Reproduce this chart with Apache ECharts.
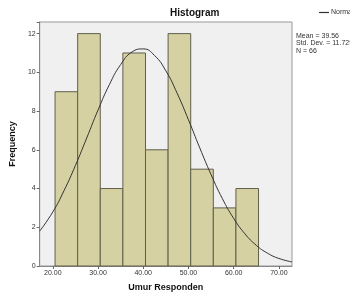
<!DOCTYPE html>
<html>
<head>
<meta charset="utf-8">
<script src="https://cdn.jsdelivr.net/npm/echarts@6/dist/echarts.min.js"></script>
<style>
  html, body { margin: 0; padding: 0; background: #fff; }
  #chart { width: 350px; height: 297px; }
</style>
</head>
<body>
<div id="chart"></div>
<script>
// histogram bins (Umur Responden) and frequencies
var binStart = [20.5, 25.5, 30.5, 35.5, 40.5, 45.5, 50.5, 55.5, 60.5];
var binEnd   = [25.5, 30.5, 35.5, 40.5, 45.5, 50.5, 55.5, 60.5, 65.5];
var freq     = [9, 12, 4, 11, 6, 12, 5, 3, 4];

// normal curve
var curveX = [17.1, 20, 22.5, 25, 27.5, 30, 32.5, 35, 37.5, 40, 42.5, 45, 47.5, 50, 52.5, 55, 57.5, 60, 62.5, 65, 67.5, 70, 72.9];
var curveY = [1.80, 2.79, 3.90, 5.19, 6.61, 8.05, 9.36, 10.40, 11.05, 11.21, 10.87, 10.08, 8.92, 7.55, 6.10, 4.72, 3.48, 2.46, 1.66, 1.07, 0.66, 0.39, 0.21];

var xTicks = [20, 30, 40, 50, 60, 70];
var statsText = ['Mean = 39.56', 'Std. Dev. = 11.729', 'N = 66'];

var bars = binStart.map(function (s, i) { return [s, binEnd[i], freq[i]]; });
var curve = curveX.map(function (x, i) { return [x, curveY[i]]; });

var chart = echarts.init(document.getElementById('chart'));
chart.setOption({
  animation: false,
  textStyle: { fontFamily: 'Liberation Sans, Arial, sans-serif' },
  title: {
    text: 'Histogram',
    left: 170, top: 8, padding: 0,
    textStyle: { fontSize: 10, fontWeight: 'bold', color: '#111' }
  },
  legend: {
    data: [{ name: 'Normal', icon: 'path://M0,0L1,0L1,0.12L0,0.12Z' }],
    left: 319, top: 9, padding: 0,
    itemWidth: 10, itemHeight: 1.5, itemGap: 2,
    textStyle: { fontSize: 7, color: '#333', padding: [0, 0, 0, -3] }
  },
  graphic: [{
    type: 'text',
    left: 296, top: 32,
    style: { text: statsText.join('\n'), fontSize: 7, lineHeight: 7.5, fill: '#333', fontFamily: 'Liberation Sans, Arial, sans-serif' }
  }],
  grid: { left: 36, right: 58, top: 22, bottom: 30, show: true, backgroundColor: '#f0f0f0', borderColor: '#999', borderWidth: 1 },
  xAxis: {
    type: 'value',
    min: 17.1, max: 72.9,
    name: 'Umur Responden',
    nameLocation: 'middle', nameGap: 17,
    nameTextStyle: { fontSize: 9, fontWeight: 'bold', color: '#111' },
    splitLine: { show: false },
    axisLine: { lineStyle: { color: '#888' } },
    axisTick: { customValues: xTicks, length: 3, lineStyle: { color: '#666' } },
    axisLabel: {
      customValues: xTicks, fontSize: 7, color: '#333', margin: 4,
      formatter: function (v) { return v.toFixed(2); }
    }
  },
  yAxis: {
    type: 'value',
    min: 0, max: 12.6, interval: 2,
    name: 'Frequency',
    nameLocation: 'middle', nameGap: 16,
    nameTextStyle: { fontSize: 9, fontWeight: 'bold', color: '#111' },
    splitLine: { show: false },
    axisLine: { show: true, lineStyle: { color: '#888' } },
    axisTick: { show: true, length: 3, lineStyle: { color: '#666' } },
    axisLabel: {
      fontSize: 7, color: '#333', margin: 4,
      formatter: function (v) { return v % 2 === 0 ? v : ''; }
    }
  },
  series: [{
    type: 'custom',
    data: bars,
    encode: { x: [0, 1], y: 2 },
    renderItem: function (params, api) {
      var p0 = api.coord([api.value(0), 0]);
      var p1 = api.coord([api.value(1), api.value(2)]);
      return {
        type: 'rect',
        shape: { x: p0[0], y: p1[1], width: p1[0] - p0[0], height: p0[1] - p1[1] },
        style: { fill: '#d5d1a2', stroke: '#5f5f4c', lineWidth: 1 }
      };
    }
  }, {
    name: 'Normal',
    type: 'line',
    data: curve,
    smooth: true,
    showSymbol: false,
    lineStyle: { color: '#333', width: 1 },
    itemStyle: { color: '#333' },
    z: 5
  }]
});
</script>
</body>
</html>
